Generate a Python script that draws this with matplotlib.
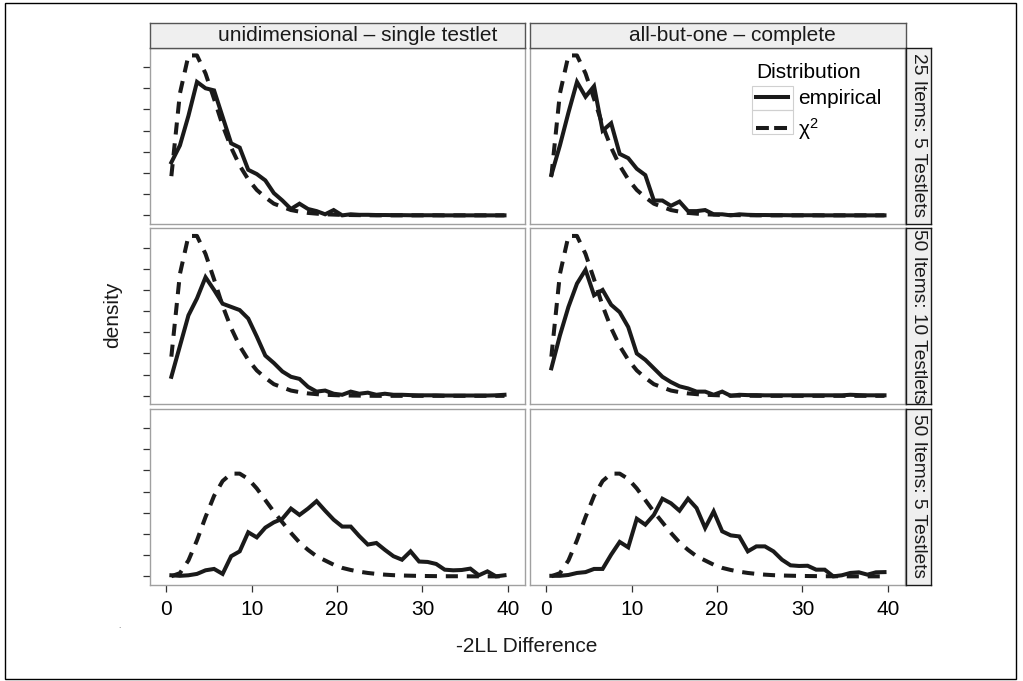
import matplotlib
matplotlib.use("Agg")
import matplotlib.pyplot as plt
from matplotlib.lines import Line2D
from matplotlib.patches import Rectangle
import numpy as np

plt.rcParams['font.family'] = ['Liberation Sans', 'DejaVu Sans']
plt.rcParams['mathtext.fontset'] = 'custom'
plt.rcParams['mathtext.rm'] = 'Liberation Sans'
plt.rcParams['mathtext.it'] = 'Liberation Sans'

# bin centres of the -2LL difference
diff_bins = np.arange(0.6, 40, 1.0)

col_labels = ["unidimensional \u2013 single testlet", "all-but-one \u2013 complete"]
row_labels = ["25 Items: 5 Testlets", "50 Items: 10 Testlets", "50 Items: 5 Testlets"]

# reference chi-square densities
chisq_top = [0.037, 0.115, 0.151, 0.151, 0.134, 0.110, 0.085, 0.064, 0.047, 0.034,
             0.024, 0.017, 0.011, 0.008, 0.005, 0.0035, 0.0023, 0.0016, 0.001, 0.0007,
             0.0004, 0.0003, 0.0002, 0.0001, 0, 0, 0, 0, 0, 0,
             0, 0, 0, 0, 0, 0, 0, 0, 0, 0]
chisq_bottom = [0.0001, 0.003, 0.015, 0.034, 0.056, 0.076, 0.090, 0.097, 0.097, 0.092,
                0.083, 0.072, 0.061, 0.051, 0.041, 0.032, 0.025, 0.019, 0.015, 0.011,
                0.008, 0.006, 0.0044, 0.0032, 0.0023, 0.0016, 0.0011, 0.0008, 0.0006, 0.0004,
                0.0003, 0.0002, 0.0001, 0.0001, 0.0001, 0, 0, 0, 0, 0]

# empirical densities
emp_uni_25_5 = [0.050, 0.066, 0.094, 0.126, 0.120, 0.118, 0.093, 0.068, 0.064, 0.043,
                0.039, 0.033, 0.021, 0.014, 0.006, 0.011, 0.006, 0.004, 0.001, 0.005,
                0.000, 0.001, 0.0005, 0.0005, 0.0003, 0.0003, 0.0002, 0.0002, 0.0001, 0.0001,
                0.0001, 0.0001, 0, 0, 0, 0, 0, 0, 0, 0]
emp_abo_25_5 = [0.038, 0.066, 0.097, 0.126, 0.112, 0.122, 0.080, 0.087, 0.058, 0.054,
                0.044, 0.038, 0.014, 0.014, 0.009, 0.013, 0.004, 0.004, 0.005, 0.001,
                0.001, 0.000, 0.001, 0.0005, 0.0003, 0.0003, 0.0002, 0.0002, 0.0001, 0.0001,
                0.0001, 0.0001, 0, 0, 0, 0, 0, 0, 0, 0]
emp_uni_50_10 = [0.018, 0.047, 0.076, 0.092, 0.112, 0.100, 0.087, 0.084, 0.081, 0.073,
                 0.056, 0.038, 0.031, 0.023, 0.018, 0.016, 0.0085, 0.004, 0.005, 0.002,
                 0.001, 0.004, 0.002, 0.003, 0.001, 0.002, 0.001, 0.001, 0.0007, 0.0005,
                 0.0005, 0.0005, 0.0003, 0.0003, 0.0003, 0.0003, 0.0003, 0.0003, 0.0005, 0.001]
emp_abo_50_10 = [0.026, 0.057, 0.084, 0.106, 0.119, 0.095, 0.100, 0.086, 0.079, 0.065,
                 0.040, 0.034, 0.026, 0.018, 0.013, 0.009, 0.007, 0.004, 0.004, 0.001,
                 0.004, 0.000, 0.001, 0.0007, 0.0007, 0.0005, 0.0005, 0.0005, 0.0005, 0.0005,
                 0.0005, 0.0005, 0.0005, 0.0005, 0.0005, 0.001, 0.0007, 0.0005, 0.0005, 0.0005]
emp_uni_50_5 = [0.001, 0.0005, 0.001, 0.0023, 0.0057, 0.007, 0.0023, 0.019, 0.0236, 0.0416,
                0.0368, 0.046, 0.051, 0.0544, 0.064, 0.058, 0.064, 0.071, 0.062, 0.0535,
                0.047, 0.047, 0.038, 0.030, 0.0315, 0.025, 0.019, 0.0157, 0.0236, 0.014,
                0.0136, 0.0117, 0.0063, 0.0057, 0.006, 0.0073, 0.001, 0.0047, 0.0, 0.001]
emp_abo_50_5 = [0.0005, 0.0005, 0.0013, 0.0032, 0.004, 0.007, 0.007, 0.0205, 0.0325, 0.0274,
                0.0544, 0.0488, 0.058, 0.0733, 0.069, 0.062, 0.0733, 0.0645, 0.0457, 0.0613,
                0.0425, 0.0387, 0.0377, 0.0236, 0.0283, 0.0283, 0.0236, 0.0157, 0.0104, 0.0098,
                0.010, 0.0063, 0.0063, 0.0, 0.001, 0.0032, 0.0038, 0.0016, 0.0038, 0.004]

empirical = [[emp_uni_25_5, emp_abo_25_5],
             [emp_uni_50_10, emp_abo_50_10],
             [emp_uni_50_5, emp_abo_50_5]]
chisq = [chisq_top, chisq_top, chisq_bottom]

W, H = 1023, 681
fig = plt.figure(figsize=(W / 100, H / 100), dpi=100)


def px_axes(x0, y0, w, h):
    return fig.add_axes([x0 / W, 1 - (y0 + h) / H, w / W, h / H])


col_x = [150, 530]
col_w = 375
row_y = [47.5, 228, 408.5]
row_h = 176
line_col = '#1a1a1a'
fs = 15

axes = {}
for r in range(3):
    for c in range(2):
        ax = px_axes(col_x[c], row_y[r], col_w, row_h)
        axes[(r, c)] = ax
        ax.plot(diff_bins, empirical[r][c], color=line_col, lw=2.9,
                solid_joinstyle='miter', label='empirical')
        ax.plot(diff_bins, chisq[r], color=line_col, lw=2.9,
                linestyle=(0, (3, 2.2)), dash_capstyle='butt', label='chi2')
        ax.set_xlim(-1.9, 42.0)
        ax.set_ylim(-0.0077, 0.1585)
        for sp in ax.spines.values():
            sp.set_color('#a0a0a0')
            sp.set_linewidth(1.0)
        ax.set_yticks(np.arange(0, 0.15, 0.02))
        ax.set_yticklabels([])
        ax.set_xticks([0, 10, 20, 30, 40])
        ax.tick_params(axis='both', direction='out', length=5, width=0.9,
                       color='#333333', labelsize=fs, pad=6)
        if c == 1:
            ax.tick_params(axis='y', left=False)
        if r < 2:
            ax.tick_params(axis='x', bottom=False, labelbottom=False)

# column strips (labels sit a little right of centre, as in the source)
strip_text_x = [0.553, 0.537]
for c in range(2):
    sa = px_axes(col_x[c], 23, col_w + (1 if c == 1 else 0), 24.5)
    sa.set_facecolor('#efefef')
    sa.set_xticks([])
    sa.set_yticks([])
    for sp in sa.spines.values():
        sp.set_color('#555555')
        sp.set_linewidth(1.0)
    sa.text(strip_text_x[c], 0.5, col_labels[c], ha='center', va='center', fontsize=fs,
            color='#1a1a1a', transform=sa.transAxes)

# row strips
for r in range(3):
    sa = px_axes(906, row_y[r], 25, row_h)
    sa.set_facecolor('#efefef')
    sa.set_xticks([])
    sa.set_yticks([])
    for sp in sa.spines.values():
        sp.set_color('#1a1a1a')
        sp.set_linewidth(1.0)
    sa.text(0.5, 0.5, row_labels[r], ha='center', va='center', fontsize=13.8,
            rotation=-90, color='#1a1a1a', transform=sa.transAxes)

# legend in the top right panel
ax_leg = axes[(0, 1)]
handles = [Line2D([], [], color=line_col, lw=2.9),
           Line2D([], [], color=line_col, lw=2.9, linestyle=(0, (3.2, 1.3)),
                  dash_capstyle='butt')]
leg = ax_leg.legend(handles, ['empirical', 'χ$^{2}$'], title='Distribution',
                    loc='upper left', bbox_to_anchor=(0.575, 0.97), frameon=False,
                    fontsize=fs, title_fontsize=fs, handlelength=1.55,
                    handletextpad=0.45, labelspacing=0.35, borderpad=0.0,
                    alignment='left')
for (bx, by) in [(752, 85.7), (752, 110)]:
    fig.patches.append(Rectangle((bx / W, 1 - (by + 24.3) / H), 41 / W, 24.3 / H,
                                 transform=fig.transFigure, fill=False,
                                 ec='#d0d0d0', lw=0.8))

fig.text(113 / W, 1 - 315 / H, 'density', rotation=90, ha='center', va='center',
         fontsize=fs, color='#1a1a1a')
fig.text(527 / W, 1 - 646 / H, '-2LL Difference', ha='center', va='center',
         fontsize=fs, color='#1a1a1a')
fig.text(119 / W, 1 - 626 / H, '.', ha='center', va='center', fontsize=6,
         color='#555555')

# outer frame
fig.patches.append(Rectangle((5 / W, 2 / H), 1011 / W, 676 / H,
                             transform=fig.transFigure, fill=False,
                             ec='black', lw=1.0))

fig.savefig('out.png', dpi=100, facecolor='white')
